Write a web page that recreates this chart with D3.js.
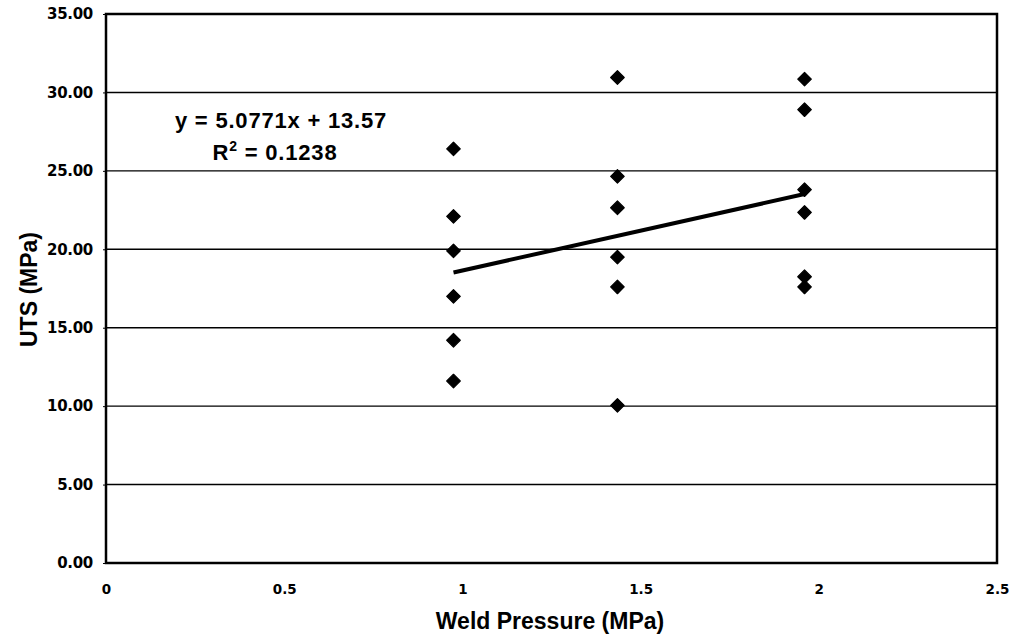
<!DOCTYPE html>
<meta charset="utf-8">
<style>
    body { margin: 0; background: #fff; }
    text { font-family: "Liberation Sans", Arial, sans-serif; font-weight: bold; fill: #000; }
    .axis text { font-family: "DejaVu Sans", sans-serif; }
    .axis path, .axis line { stroke: #000; }
</style>
<body>
<script src="https://d3js.org/d3.v7.min.js"></script>
<script>

    // data
    var pressures = [0.975, 0.975, 0.975, 0.975, 0.975, 0.975,
                     1.435, 1.435, 1.435, 1.435, 1.435, 1.435,
                     1.96, 1.96, 1.96, 1.96, 1.96, 1.96];
    var uts = [26.4, 22.1, 19.9, 17.0, 14.2, 11.6,
               30.95, 24.65, 22.65, 19.5, 17.6, 10.05,
               30.85, 28.9, 23.8, 22.35, 18.25, 17.6];
    var fit = [5.0771, 13.57];   // slope, intercept
    var r2 = "0.1238";
    var xTicks = [0, 0.5, 1, 1.5, 2, 2.5];
    var yTicks = [0, 5, 10, 15, 20, 25, 30, 35];

    var width = 1015, height = 642;
    var margin = {top: 14, right: 18, bottom: 79, left: 106};

    var svg = d3.select("body").append("svg")
        .attr("width", width)
        .attr("height", height);

    var x = d3.scaleLinear().domain([0, 2.5]).range([margin.left, width - margin.right]);
    var y = d3.scaleLinear().domain([0, 35]).range([height - margin.bottom, margin.top]);

    // gridlines
    svg.append("g")
        .selectAll("line")
        .data(yTicks.slice(1, -1))
        .enter().append("line")
        .attr("x1", x(0)).attr("x2", x(2.5))
        .attr("y1", function(d) { return y(d); })
        .attr("y2", function(d) { return y(d); })
        .attr("stroke", "#000")
        .attr("stroke-width", 1.4);

    // frame
    svg.append("rect")
        .attr("x", x(0)).attr("y", y(35))
        .attr("width", x(2.5) - x(0))
        .attr("height", y(0) - y(35))
        .attr("fill", "none")
        .attr("stroke", "#000")
        .attr("stroke-width", 2.5);

    var yAxis = svg.append("g")
        .attr("class", "axis")
        .attr("transform", "translate(" + x(0) + ",0)")
        .call(d3.axisLeft(y).tickValues(yTicks).tickFormat(d3.format(".2f")).tickSize(3).tickPadding(10));
    yAxis.select(".domain").remove();
    yAxis.selectAll("text").style("font-size", "15px").style("font-weight", "bold").style("letter-spacing", "-0.3px");

    var xAxis = svg.append("g")
        .attr("class", "axis")
        .attr("transform", "translate(0," + y(0) + ")")
        .call(d3.axisBottom(x).tickValues(xTicks).tickFormat(function(d) { return d; }).tickSize(0).tickPadding(21));
    xAxis.select(".domain").remove();
    xAxis.selectAll("text").style("font-size", "13.5px").style("font-weight", "bold");

    // trend line
    var x0 = d3.min(pressures), x1 = d3.max(pressures);
    svg.append("line")
        .attr("x1", x(x0)).attr("y1", y(fit[0] * x0 + fit[1]))
        .attr("x2", x(x1)).attr("y2", y(fit[0] * x1 + fit[1]))
        .attr("stroke", "#000")
        .attr("stroke-width", 4);

    // points
    var sym = d3.symbol().type(d3.symbolSquare).size(92);
    svg.append("g")
        .selectAll("path")
        .data(pressures)
        .enter().append("path")
        .attr("d", sym)
        .attr("transform", function(d, i) {
            return "translate(" + x(d) + "," + y(uts[i]) + ") rotate(45)";
        })
        .attr("fill", "#000")
        .attr("stroke", "#000")
        .attr("stroke-width", 1.2)
        .attr("stroke-linejoin", "round");

    // equation
    svg.append("text")
        .attr("x", 281).attr("y", 128)
        .attr("text-anchor", "middle")
        .style("font-size", "22px")
        .style("letter-spacing", "0.8px")
        .text("y = " + fit[0] + "x + " + fit[1]);
    var rt = svg.append("text")
        .attr("x", 275).attr("y", 160)
        .attr("text-anchor", "middle")
        .style("font-size", "22px")
        .style("letter-spacing", "0.8px");
    rt.append("tspan").text("R");
    rt.append("tspan").attr("dy", -9).style("font-size", "14px").text("2");
    rt.append("tspan").attr("dy", 9).text(" = " + r2);

    // axis titles
    svg.append("text")
        .attr("transform", "translate(37," + ((y(0) + y(35)) / 2 + 1) + ") rotate(-90)")
        .attr("text-anchor", "middle")
        .style("font-size", "23px")
        .text("UTS (MPa)");
    svg.append("text")
        .attr("x", 550).attr("y", 629)
        .attr("text-anchor", "middle")
        .style("font-size", "23px")
        .text("Weld Pressure (MPa)");

</script>
